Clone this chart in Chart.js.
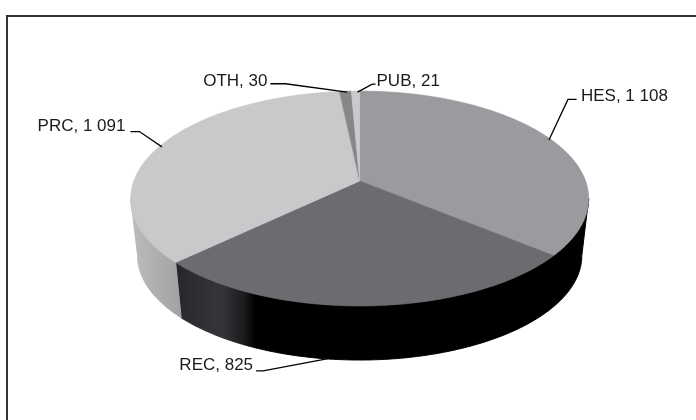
<!DOCTYPE html>
<html>
<head>
<meta charset="utf-8">
<style>
  html, body { margin: 0; padding: 0; background: #fff; }
  #wrap { position: relative; width: 696px; height: 420px; overflow: hidden; }
  canvas { display: block; }
</style>
<script src="https://cdn.jsdelivr.net/npm/chart.js@4"></script>
</head>
<body>
<div id="wrap"><canvas id="pie" width="696" height="420"></canvas></div>
<script>
const categories = ['HES', 'REC', 'PRC', 'OTH', 'PUB'];
const values = [1108, 825, 1091, 30, 21];
const valueLabels = ['1 108', '825', '1 091', '30', '21'];
const topColors = ['#9b9a9e', '#6d6b70', '#c8c9cb', '#87878a', '#c9cacc'];

// Side wall shading, as horizontal gradient stops [fraction across the slice, colour].
const sideShades = [
  [[0, '#000000'], [1, '#000000']],
  [[0, '#28262a'], [0.12, '#37353a'], [0.18, '#1c1b1d'], [0.21, '#000000'], [1, '#000000']],
  [[0, '#bcbcbe'], [1, '#a2a2a5']],
  [[0, '#888888'], [1, '#888888']],
  [[0, '#aaaaaa'], [1, '#aaaaaa']]
];

// Pitched-disc projection of the pie.
const view = {
  cx: 359.7, apexY: 181, halfW: 225.9, halfH: 104.6, tilt: 0.163,
  wallDrop: 57.8, wallScale: 0.97
};

function project(angle, scale, drop) {
  const u = Math.cos(angle), v = Math.sin(angle);
  const w = 1 - view.tilt * v;
  return {
    x: view.cx + scale * view.halfW * u / w,
    y: view.apexY + drop + scale * view.halfH * v / w
  };
}

function arcPoints(start, end, scale, drop) {
  const n = Math.max(2, Math.ceil((end - start) / 0.01));
  const pts = [];
  for (let i = 0; i <= n; i++) pts.push(project(start + (end - start) * i / n, scale, drop));
  return pts;
}

function tracePath(ctx, pts) {
  ctx.beginPath();
  pts.forEach((p, i) => i ? ctx.lineTo(p.x, p.y) : ctx.moveTo(p.x, p.y));
  ctx.closePath();
}

// Label text and leader geometry, relative to the rim point at each slice's middle.
const labelOffsets = [
  { text: [30, -38.7], start: [25.7, -40], elbow: [17, -40], tip: [-2, 0.6], align: 'left' },
  { text: [-116, 19], start: [-113, 20], elbow: [-106, 20], tip: [0, 0], align: 'right', onWall: 45 },
  { text: [-33.5, -15.5], start: [-28.5, -15.3], elbow: [-19.5, -15.3], tip: [3, 0], align: 'right' },
  { text: [-78, -5.5], start: [-75, -7.5], elbow: [-60, -7.5], tip: [1.7, 0.8], align: 'right' },
  { text: [21, -5.3], start: [20, -7], elbow: [16.7, -7], tip: [2, 1], align: 'left' }
];

const pie3d = {
  id: 'pie3d',
  beforeDatasetDraw(chart) {
    const ctx = chart.ctx;
    const arcs = chart.getDatasetMeta(0).data;
    ctx.save();

    // Outer frame: top and left rules only.
    ctx.fillStyle = '#333333';
    ctx.fillRect(6, 15, 690, 2);
    ctx.fillRect(6, 15, 2, 405);

    // Side walls, limited to the part between the disc's silhouette points.
    const edge = Math.asin(view.tilt);
    arcs.forEach((arc, i) => {
      const from = Math.max(arc.startAngle, edge);
      const to = Math.min(arc.endAngle, Math.PI - edge);
      if (to <= from) return;
      const rim = arcPoints(from, to, 1, 0);
      const base = arcPoints(from, to, view.wallScale, view.wallDrop);
      const outline = rim.concat(base.slice().reverse());
      const xs = outline.map(p => p.x);
      const grad = ctx.createLinearGradient(Math.min(...xs), 0, Math.max(...xs), 0);
      sideShades[i].forEach(s => grad.addColorStop(s[0], s[1]));
      tracePath(ctx, outline);
      ctx.fillStyle = grad;
      ctx.strokeStyle = grad;
      ctx.lineWidth = 1;
      ctx.fill();
      ctx.stroke();
    });

    // Top face.
    const apex = { x: view.cx, y: view.apexY };
    arcs.forEach((arc, i) => {
      tracePath(ctx, [apex].concat(arcPoints(arc.startAngle, arc.endAngle, 1, 0)));
      ctx.fillStyle = topColors[i];
      ctx.strokeStyle = topColors[i];
      ctx.lineWidth = 0.6;
      ctx.fill();
      ctx.stroke();
    });

    // Leader lines and labels.
    ctx.font = '17px "Liberation Sans", Arial, sans-serif';
    ctx.textBaseline = 'alphabetic';
    ctx.fillStyle = '#1a1a1a';
    arcs.forEach((arc, i) => {
      const mid = (arc.startAngle + arc.endAngle) / 2;
      const off = labelOffsets[i];
      const p = project(mid, 1, off.onWall || 0);
      ctx.beginPath();
      ctx.moveTo(p.x + off.start[0], p.y + off.start[1]);
      ctx.lineTo(p.x + off.elbow[0], p.y + off.elbow[1]);
      ctx.lineTo(p.x + off.tip[0], p.y + off.tip[1]);
      ctx.strokeStyle = '#000000';
      ctx.lineWidth = 1.3;
      ctx.stroke();
      ctx.textAlign = off.align;
      ctx.fillText(categories[i] + ', ' + valueLabels[i], p.x + off.text[0], p.y + off.text[1]);
    });

    ctx.restore();
    return false;
  }
};

new Chart(document.getElementById('pie'), {
  type: 'pie',
  data: {
    labels: categories,
    datasets: [{ data: values, backgroundColor: topColors, borderWidth: 0 }]
  },
  options: {
    responsive: false,
    animation: false,
    plugins: { legend: { display: false }, tooltip: { enabled: false } }
  },
  plugins: [pie3d]
});
</script>
</body>
</html>
